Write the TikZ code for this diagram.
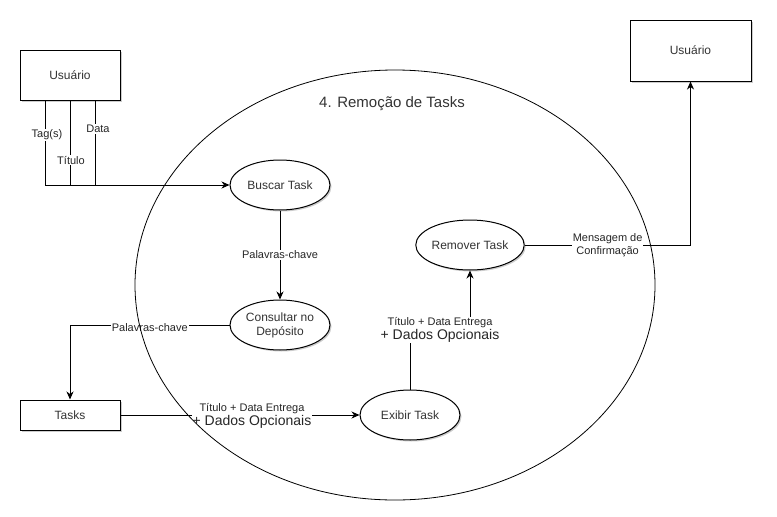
\documentclass[tikz,border=0pt]{standalone}
\usepackage{fontspec}
\setmainfont{Liberation Sans}
\usetikzlibrary{arrows.meta,shapes.geometric,shadows}
\tikzset{
  shd/.style={drop shadow={shadow xshift=1.5pt,shadow yshift=-1.5pt,opacity=0.2,fill=black}},
  box/.style={draw,rectangle,line width=1pt,minimum width=100pt,minimum height=50pt,inner sep=0pt,
    fill=white,shd,font=\fontsize{12}{14}\selectfont,text=black!80},
  proc/.style={draw,ellipse,line width=1pt,minimum width=100pt,minimum height=50pt,inner sep=0pt,
    fill=white,shd,align=center,font=\fontsize{12}{14}\selectfont,text=black!80},
  lbl/.style={fill=white,inner sep=1pt,align=center,font=\fontsize{11}{13}\selectfont,text=black!85},
  flow/.style={line width=1pt,-{Stealth[length=8pt,width=7pt,inset=2.5pt]}},
  plain/.style={line width=1pt}
}
\begin{document}
\begin{tikzpicture}[x=1pt,y=-1pt]
\useasboundingbox (0,0) rectangle (777,517);

\node[box] (u1) at (70,75) {Usuário};
\node[box,minimum width=121pt,minimum height=61pt] (u2) at (690.5,50.5) {Usuário};
\node[box,minimum height=30pt] (tasks) at (70,415) {Tasks};

\node[font=\fontsize{15}{18}\selectfont,text=black!80] (title) at (392,104) {4. Remoção de Tasks};
\node[proc] (buscar) at (280,185) {Buscar Task};
\node[proc] (consultar) at (280,325) {Consultar no\\Depósito};
\node[proc] (exibir) at (410,415) {Exibir Task};
\node[proc] (remover) at (470,245) {Remover Task};

% Usuario -> Buscar Task
\draw[flow] ([xshift=-25pt]u1.south) |- (buscar.west);
\draw[plain] (u1.south) -- (u1.south |- buscar.west);
\draw[plain] ([xshift=25pt]u1.south) -- ([xshift=25pt]u1.south |- buscar.west);
\node[lbl] (ltag) at (47,135) {Tag(s)};
\node[lbl] (ltit) at (71,160) {Título};
\node[lbl] (ldat) at (98,129) {Data};

% Buscar -> Consultar
\draw[flow] (buscar) -- node[lbl] (lpc1) {Palavras-chave} (consultar);

% Consultar -> Tasks
\draw[flow] (consultar.west) -| node[lbl,pos=0.25,yshift=-3pt] (lpc2) {Palavras-chave} (tasks.north);

% Tasks -> Exibir
\draw[flow] (tasks) -- node[lbl,pos=0.55,inner sep=0.5pt,yshift=-1pt] (ltd1) {Título + Data Entrega\\[1pt]{\fontsize{14}{15}\selectfont + Dados Opcionais}} (exibir);

% Exibir -> Remover
\draw[flow] (exibir.north) -- ++(0,-60) -| node[lbl,pos=0.25,inner sep=0.5pt] (ltd2) {Título + Data Entrega\\[1pt]{\fontsize{14}{15}\selectfont + Dados Opcionais}} (remover.south);

% Remover -> Usuario
\draw[flow] (remover.east) -| node[lbl,pos=0.25,inner sep=0.5pt] (lmsg) {Mensagem de\\Confirmação} (u2.south);

% Process boundary
\node[draw,ellipse,line width=0.8pt,minimum width=520pt,minimum height=430pt] (big) at (395,285) {};
\end{tikzpicture}
\end{document}
